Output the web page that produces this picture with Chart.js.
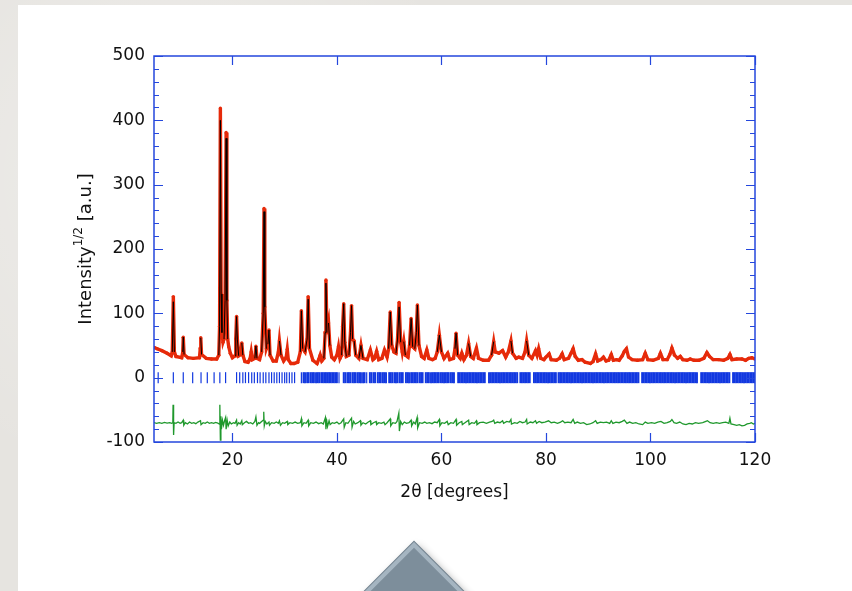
<!DOCTYPE html>
<html>
<head>
<meta charset="utf-8">
<script src="https://cdn.jsdelivr.net/npm/chart.js@4.4.1/dist/chart.umd.min.js"></script>
<style>
  html, body { margin: 0; padding: 0; }
  body {
    width: 852px; height: 591px; overflow: hidden; position: relative;
    background: #e6e4e0;
    background-image:
      radial-gradient(circle at 20% 30%, rgba(255,255,255,0.35) 0, rgba(255,255,255,0) 40%),
      radial-gradient(circle at 70% 80%, rgba(200,196,190,0.4) 0, rgba(200,196,190,0) 35%);
  }
  .card { position: absolute; left: 18px; top: 5px; right: -10px; bottom: -10px; background: #fff; }
  .pyramid {
    position: absolute; left: 414px; top: 542px; width: 100px; height: 100px;
    transform-origin: 0 0; transform: rotate(45deg);
    background: #7d8e9b; border: 4px solid #a5b5c1; outline: 1px solid #71828f;
    box-shadow: 5px 1px 8px rgba(0,0,0,0.45);
  }
  canvas { position: absolute; left: 0; top: 0; }
</style>
</head>
<body>
<div class="card"></div>
<div class="pyramid"></div>
<canvas id="chart" width="852" height="591"></canvas>
<script>
// Ejes
const xTicks = [20, 40, 60, 80, 100, 120];
const yTicks = [-100, 0, 100, 200, 300, 400, 500];

// Patron observado (2theta, intensidad^1/2)
const twoTheta = [
  5.0, 5.6, 6.5, 7.5, 8.3, 8.5, 8.7, 8.9, 9.2, 10.3, 10.5, 10.6, 10.75, 11.5, 12.5, 13.7, 13.85, 13.95, 14.1, 15.0,
  16.0, 17.0, 17.4, 17.55, 17.7, 17.85, 18.0, 18.2, 18.4, 18.6, 18.8, 18.95, 19.1, 19.3, 19.6, 20.0, 20.5, 20.65, 20.8, 20.95,
  21.2, 21.6, 21.8, 22.0, 22.4, 23.0, 23.4, 23.6, 23.8, 24.3, 24.5, 24.7, 25.2, 25.6, 25.9, 26.05, 26.2, 26.5, 26.8, 27.0,
  27.2, 27.8, 28.4, 28.8, 29.0, 29.3, 29.8, 30.3, 30.5, 30.7, 31.2, 31.8, 32.5, 33.0, 33.2, 33.45, 33.9, 34.3, 34.5, 34.75,
  35.4, 36.2, 36.6, 36.8, 37.1, 37.5, 37.75, 37.9, 38.1, 38.4, 38.65, 39.0, 39.5, 40.0, 40.3, 40.6, 40.9, 41.1, 41.3, 41.5,
  41.8, 42.3, 42.6, 42.8, 43.0, 43.3, 43.6, 44.2, 44.6, 45.0, 45.8, 46.4, 46.9, 47.2, 47.6, 48.0, 48.6, 49.1, 49.6, 49.9,
  50.2, 50.5, 50.9, 51.3, 51.6, 51.9, 52.2, 52.5, 52.8, 53.1, 53.6, 53.9, 54.2, 54.5, 54.9, 55.2, 55.4, 55.7, 56.2, 56.7,
  57.2, 57.6, 58.3, 58.8, 59.2, 59.6, 60.0, 60.5, 61.2, 61.6, 62.3, 62.6, 62.8, 63.1, 63.6, 63.9, 64.3, 64.8, 65.2, 65.6,
  66.1, 66.7, 67.1, 68.0, 69.0, 69.6, 70.0, 70.3, 71.0, 71.7, 72.3, 72.8, 73.3, 73.6, 74.3, 74.8, 75.5, 76.0, 76.3, 76.7,
  77.3, 78.0, 78.3, 78.6, 79.0, 79.6, 80.0, 80.6, 81.0, 82.0, 82.6, 83.1, 83.5, 84.3, 84.8, 85.2, 85.6, 86.2, 86.9, 87.5,
  88.5, 89.0, 89.5, 89.9, 90.5, 91.0, 91.5, 92.0, 92.5, 92.9, 93.5, 94.0, 94.6, 95.0, 95.4, 95.8, 96.5, 97.5, 98.5, 99.0,
  99.5, 100.5, 101.5, 101.9, 102.4, 103.2, 103.7, 104.1, 104.6, 105.2, 105.7, 106.2, 107.0, 107.6, 108.3, 109.3, 110.2, 110.8, 111.3, 112.0,
  113.0, 114.0, 114.8, 115.2, 115.6, 116.5, 117.5, 118.2, 118.8, 119.4, 120.0
];
const yObs = [
  47, 45, 42, 38, 34, 40, 126, 40, 33, 31, 40, 63, 36, 31, 30, 31, 45, 62, 36, 30,
  29, 29, 35, 80, 419, 130, 70, 55, 60, 120, 381, 120, 60, 48, 38, 31, 34, 60, 95, 60,
  34, 36, 54, 35, 25, 24, 30, 40, 28, 30, 49, 30, 28, 40, 100, 263, 110, 45, 52, 74,
  35, 26, 26, 40, 57, 35, 26, 32, 44, 28, 22, 22, 24, 40, 104, 45, 40, 60, 126, 45,
  27, 22, 30, 35, 26, 30, 70, 152, 70, 85, 50, 32, 28, 35, 48, 30, 35, 80, 115, 55,
  33, 35, 70, 112, 60, 57, 35, 30, 50, 30, 28, 43, 28, 30, 41, 28, 30, 43, 32, 45,
  102, 50, 40, 38, 60, 117, 55, 40, 56, 35, 32, 50, 92, 48, 45, 70, 113, 50, 33, 30,
  43, 30, 28, 30, 40, 66, 40, 30, 38, 28, 30, 45, 69, 35, 30, 38, 28, 35, 53, 33,
  30, 46, 30, 27, 27, 35, 56, 40, 38, 42, 32, 40, 57, 38, 30, 32, 30, 40, 57, 35,
  30, 42, 35, 45, 30, 28, 32, 37, 28, 27, 30, 37, 28, 30, 38, 45, 33, 27, 28, 24,
  22, 25, 37, 26, 28, 32, 26, 27, 36, 27, 28, 27, 34, 41, 45, 32, 28, 27, 28, 38,
  28, 27, 30, 38, 28, 28, 36, 46, 35, 30, 33, 28, 27, 29, 27, 27, 30, 39, 33, 28,
  28, 27, 30, 36, 28, 29, 29, 27, 30, 31, 29
];

// Puntos donde el calculado se separa del observado
const calcOverrides = [
  [8.7, 118], [17.7, 400], [18.8, 372], [26.05, 258], [34.5, 122], [37.9, 147],
  [51.9, 110], [87.5, 26], [88.5, 25], [110.2, 31], [118.2, 29]
];

// Curva diferencia (obs - calc, desplazada -70)
const diffCurve = [
  [5, -70], [5.5, -71], [6, -70], [6.5, -71], [7, -69.5], [7.5, -70.5], [8, -70], [8.4, -71], [8.6, -70], [8.65, -42],
  [8.75, -89], [8.85, -70], [9.2, -71], [9.6, -69], [10.0, -71], [10.3, -70], [10.6, -66], [10.7, -74], [11.0, -70], [11.4, -72],
  [11.8, -69], [12.2, -71], [12.6, -70], [13.0, -71.5], [13.4, -69], [13.9, -67], [14.0, -73], [14.4, -70], [14.8, -71], [15.2, -69],
  [15.6, -71], [16.0, -70], [16.4, -71], [16.8, -69.5], [17.2, -70.5], [17.5, -72], [17.6, -42], [17.7, -97], [17.8, -60], [17.9, -80],
  [18.1, -66], [18.3, -74], [18.5, -67], [18.7, -62], [18.8, -80], [19.0, -66], [19.2, -75], [19.5, -69], [19.8, -72], [20.2, -70],
  [20.5, -71], [20.8, -66], [20.9, -74], [21.2, -70], [21.5, -72], [21.8, -67], [21.9, -73], [22.3, -70], [22.7, -68], [23.1, -71],
  [23.5, -70], [23.9, -72], [24.3, -68], [24.5, -61], [24.7, -74], [25.0, -70], [25.2, -71], [25.6, -68], [25.9, -66], [26.0, -53],
  [26.1, -75], [26.3, -68], [26.6, -72], [27.0, -69], [27.1, -74], [27.5, -70], [28.0, -71], [28.4, -69], [28.8, -71], [29.0, -67],
  [29.2, -74], [29.6, -70], [30.0, -71], [30.5, -68], [30.6, -73], [31.0, -70], [31.5, -71], [32.0, -69], [32.5, -71], [33.0, -70],
  [33.2, -64], [33.3, -75], [33.7, -70], [34.1, -71], [34.5, -66], [34.6, -75], [35.0, -70], [35.5, -71], [36.0, -69], [36.5, -71.5],
  [37.0, -70], [37.4, -72], [37.8, -62], [37.9, -80], [38.0, -64], [38.2, -76], [38.5, -67], [38.7, -73], [39.1, -70], [39.5, -71],
  [40.0, -69], [40.4, -72], [40.8, -70], [41.3, -64], [41.4, -77], [41.7, -70], [42.1, -71], [42.8, -63], [42.9, -77], [43.2, -68],
  [43.5, -72], [44.0, -70], [44.5, -67], [44.6, -74], [45.0, -70], [45.5, -72], [46.0, -69], [46.4, -67], [46.5, -73], [47.0, -70],
  [47.5, -68], [47.6, -73], [48.0, -70], [48.5, -71], [49.0, -69], [49.2, -73], [49.6, -70], [50.2, -64], [50.3, -75], [50.7, -70],
  [51.2, -71], [51.5, -68], [51.85, -55], [51.95, -83], [52.2, -68], [52.5, -73], [52.9, -69], [53.3, -71], [53.8, -70], [54.2, -66],
  [54.3, -75], [54.7, -69], [55.0, -72], [55.35, -62], [55.45, -78], [55.8, -70], [56.3, -71], [56.8, -69], [57.2, -71], [57.7, -70],
  [58.2, -71.5], [58.7, -69], [59.2, -70], [59.6, -65], [59.7, -75], [60.1, -70], [60.6, -71], [61.1, -68], [61.3, -73], [61.8, -70],
  [62.3, -71], [62.8, -65], [62.9, -74], [63.4, -70], [63.9, -68], [64.0, -73], [64.5, -70], [65.2, -66], [65.3, -73], [65.8, -70],
  [66.3, -71], [66.7, -67], [66.8, -73], [67.3, -70], [68.0, -69], [68.6, -71], [69.2, -69], [69.7, -68], [70.0, -66], [70.2, -71],
  [70.7, -69], [71.2, -70], [71.7, -67], [71.9, -71], [72.5, -68], [73.0, -69], [73.3, -65], [73.4, -72], [74.0, -70], [74.5, -71],
  [75.0, -68], [75.5, -70], [76.0, -69], [76.3, -65], [76.4, -72], [77.0, -69], [77.5, -70], [78.0, -67], [78.2, -71], [78.7, -68],
  [79.2, -70], [79.8, -69], [80.5, -67], [81.0, -70], [81.6, -69], [82.2, -71], [82.8, -69], [83.2, -67], [83.6, -70], [84.2, -69],
  [84.8, -70], [85.2, -65], [85.5, -71], [86.0, -69], [86.6, -71], [87.2, -70], [87.8, -73], [88.4, -72], [89.0, -70], [89.5, -67],
  [89.8, -71], [90.4, -69], [91.0, -70], [91.6, -69], [92.2, -71], [92.5, -67], [92.8, -71], [93.4, -69], [94.0, -70], [94.6, -68],
  [95.0, -66], [95.5, -71], [96.0, -69], [96.6, -71], [97.2, -70], [97.8, -72], [98.5, -73], [99.0, -69], [99.5, -71], [100.2, -70],
  [100.8, -71], [101.4, -69], [102.0, -68], [102.6, -71], [103.2, -70], [103.8, -68], [104.1, -65], [104.5, -70], [105.0, -71], [105.6, -69],
  [106.2, -72], [106.8, -73], [107.4, -71], [108.0, -72], [108.6, -70], [109.2, -71], [110.0, -70], [110.6, -68], [110.9, -67], [111.4, -70],
  [112.0, -71], [112.6, -70], [113.2, -71], [113.8, -70], [114.4, -69], [115.0, -71], [115.2, -63], [115.4, -72], [116.0, -73], [116.5, -74],
  [117.0, -73], [117.5, -75], [118.0, -74], [118.5, -72], [119.0, -71], [119.3, -70], [119.7, -72], [120, -71]
];

// Posiciones de reflexiones (marcas azules)
const reflections = [
  5.8, 8.7, 10.6, 12.4, 14.0, 15.2, 16.5, 17.6, 18.7,
  20.8, 21.4, 22.0, 22.5, 23.1, 23.7, 24.2, 24.8, 25.3, 25.9, 26.4, 27.0, 27.5, 28.0, 28.5, 29.0, 29.5, 30.0, 30.4, 30.9, 31.4, 31.9,
  33.2, 33.6, 33.9, 34.3, 34.6, 35.0, 35.3, 35.6, 36.0, 36.3, 36.6, 37.0, 37.3, 37.6, 37.9, 38.2, 38.5, 38.8, 39.1, 39.4, 39.7, 40.0, 40.4,
  41.3, 41.6, 42.0, 42.3, 42.6, 43.0, 43.3, 43.6, 44.0, 44.3, 44.6, 45.0, 45.3, 45.7, 46.3, 46.6, 47.0, 47.3, 47.8, 48.1, 48.4, 48.8,
  49.1, 49.4, 50.0, 50.3, 50.6, 51.0, 51.3, 51.6, 52.0, 52.3, 52.6, 53.2, 53.5, 53.8, 54.2, 54.5, 54.8, 55.1, 55.4, 55.8, 56.1, 56.4,
  57.0, 57.3, 57.6, 58.0, 58.3, 58.6, 58.9, 59.2, 59.5, 59.9, 60.2, 60.5, 60.8, 61.1, 61.4, 61.8, 62.1, 62.4, 63.2, 63.5, 63.8, 64.1,
  64.4, 64.7, 65.0, 65.3, 65.6, 65.9, 66.2, 66.5, 66.8, 67.1, 67.4, 67.7, 68.0, 68.3, 69.1, 69.4, 69.7, 70.0, 70.3, 70.6, 70.9, 71.2,
  71.5, 71.8, 72.1, 72.4, 72.7, 73.0, 73.3, 73.6, 73.9, 74.2, 74.5, 75.1, 75.4, 75.7, 76.0, 76.3, 76.6, 76.9, 77.7, 78.0, 78.3, 78.6,
  78.9, 79.2, 79.5, 79.8, 80.1, 80.4, 80.7, 81.0, 81.3, 81.6, 81.9, 82.4, 82.7, 83.0, 83.3, 83.6, 83.9, 84.2, 84.5, 84.8, 85.1, 85.4,
  85.7, 86.0, 86.3, 86.6, 86.9, 87.2, 87.5, 87.8, 88.1, 88.4, 88.7, 89.0, 89.3, 89.6, 89.9, 90.2, 90.5, 90.8, 91.1, 91.4, 91.7, 92.0,
  92.3, 92.6, 92.9, 93.2, 93.5, 93.8, 94.1, 94.4, 94.7, 95.0, 95.3, 95.6, 95.9, 96.2, 96.5, 96.8, 97.1, 97.4, 97.7, 98.4, 98.7, 99.0,
  99.3, 99.6, 99.9, 100.2, 100.5, 100.8, 101.1, 101.4, 101.7, 102.0, 102.3, 102.6, 102.9, 103.2, 103.5, 103.8, 104.1, 104.4, 104.7, 105.0,
  105.3, 105.6, 105.9, 106.2, 106.5, 106.8, 107.1, 107.4, 107.7, 108.0, 108.3, 108.6, 108.9, 109.7, 110.0, 110.3, 110.6, 110.9, 111.2, 111.5,
  111.8, 112.1, 112.4, 112.7, 113.0, 113.3, 113.6, 113.9, 114.2, 114.5, 114.8, 115.1, 115.8, 116.1, 116.4, 116.7, 117.0, 117.3, 117.6, 117.9,
  118.2, 118.5, 118.8, 119.1, 119.4, 119.7, 120.0
];

// Colores
const AXIS_BLUE = '#2447dd';
const TICK_BLUE = '#1238e0';
const OBS_RED = '#e62a0a';
const DIFF_GREEN = '#1f982c';

// Construir series
const obsPoints = twoTheta.map((x, i) => ({ x: x, y: yObs[i] }));
const calcPoints = obsPoints.map(p => {
    const o = calcOverrides.find(c => c[0] === p.x);
    return { x: p.x, y: o ? o[1] : p.y };
});
const diffPoints = diffCurve.map(d => ({ x: d[0], y: d[1] }));
const reflPoints = reflections.map(x => ({ x: x, y: 0 }));

// Grosor de las marcas: mas gruesas donde estan muy juntas
function reflWidth(ctx) {
    const i = ctx.dataIndex;
    const prev = i > 0 ? reflections[i] - reflections[i - 1] : 9;
    const next = i < reflections.length - 1 ? reflections[i + 1] - reflections[i] : 9;
    return Math.min(prev, next) < 0.36 ? 1.9 : 1.2;
}

// Marco, marcas interiores y titulos de ejes
const framePlugin = {
    id: 'frame',
    afterDraw(chart) {
        const ctx = chart.ctx;
        const a = chart.chartArea;
        const xs = chart.scales.x, ys = chart.scales.y;
        ctx.save();
        ctx.strokeStyle = AXIS_BLUE;
        ctx.lineWidth = 1.5;
        ctx.strokeRect(a.left, a.top, a.right - a.left, a.bottom - a.top);
        ctx.lineWidth = 1.2;
        ctx.beginPath();
        xTicks.forEach(v => {
            const px = Math.round(xs.getPixelForValue(v)) + 0.5;
            ctx.moveTo(px, a.bottom); ctx.lineTo(px, a.bottom - 9);
            ctx.moveTo(px, a.top); ctx.lineTo(px, a.top + 9);
        });
        for (let v = -100; v <= 500; v += 20) {
            const py = Math.round(ys.getPixelForValue(v)) + 0.5;
            const len = (v % 100 === 0) ? 9 : 5;
            ctx.moveTo(a.left, py); ctx.lineTo(a.left + len, py);
            ctx.moveTo(a.right, py); ctx.lineTo(a.right - len, py);
        }
        ctx.stroke();

        // Titulo eje x
        ctx.fillStyle = '#111';
        ctx.textAlign = 'center';
        ctx.textBaseline = 'middle';
        ctx.font = '17px "DejaVu Sans"';
        ctx.fillText('2\u03B8 [degrees]', (a.left + a.right) / 2, 493);

        // Titulo eje y con superindice
        const big = '18px "DejaVu Sans"', small = '12px "DejaVu Sans"';
        ctx.font = big;
        const w1 = ctx.measureText('Intensity').width;
        const w3 = ctx.measureText(' [a.u.]').width;
        ctx.font = small;
        const w2 = ctx.measureText('1/2').width;
        const total = w1 + w2 + w3;
        ctx.translate(86, (a.top + a.bottom) / 2);
        ctx.rotate(-Math.PI / 2);
        ctx.textAlign = 'left';
        const x0 = -total / 2;
        ctx.font = big;
        ctx.fillText('Intensity', x0, 0);
        ctx.font = small;
        ctx.fillText('1/2', x0 + w1, -7);
        ctx.font = big;
        ctx.fillText(' [a.u.]', x0 + w1 + w2, 0);
        ctx.restore();
    }
};

const tickFont = { family: 'DejaVu Sans', size: 17 };

new Chart(document.getElementById('chart'), {
    type: 'scatter',
    data: {
        datasets: [
            {
                label: 'calc',
                data: calcPoints,
                showLine: true,
                pointRadius: 0,
                borderColor: '#000',
                borderWidth: 1,
                segment: {
                    borderColor: c => Math.abs(c.p1.y - c.p0.y) > 12 ? '#000' : 'rgba(0,0,0,0)'
                }
            },
            {
                label: 'obs',
                data: obsPoints,
                showLine: true,
                borderColor: OBS_RED,
                borderWidth: 3.4,
                pointRadius: 1.7,
                pointBorderWidth: 0,
                pointBackgroundColor: OBS_RED
            },
            {
                label: 'reflections',
                data: reflPoints,
                showLine: false,
                pointStyle: 'line',
                rotation: 90,
                pointRadius: 5.5,
                pointBorderWidth: reflWidth,
                pointBorderColor: TICK_BLUE,
                pointBackgroundColor: TICK_BLUE
            },
            {
                label: 'diff',
                data: diffPoints,
                showLine: true,
                pointRadius: 0,
                borderColor: DIFF_GREEN,
                borderWidth: 1.3
            }
        ]
    },
    options: {
        responsive: false,
        animation: false,
        devicePixelRatio: 1,
        layout: { padding: { left: 0, right: 97, top: 56, bottom: 0 } },
        plugins: { legend: { display: false }, tooltip: { enabled: false } },
        scales: {
            x: {
                type: 'linear',
                min: 5,
                max: 120,
                grid: { display: false },
                border: { display: false },
                ticks: { font: tickFont, color: '#111', padding: 0, maxRotation: 0 },
                afterBuildTicks: s => { s.ticks = xTicks.map(v => ({ value: v })); },
                afterFit: s => { s.height = 149; }
            },
            y: {
                min: -100,
                max: 500,
                grid: { display: false },
                border: { display: false },
                ticks: { font: tickFont, color: '#111', padding: 1 },
                afterBuildTicks: s => { s.ticks = yTicks.map(v => ({ value: v })); },
                afterFit: s => { s.width = 154; }
            }
        }
    },
    plugins: [framePlugin]
});
</script>
</body>
</html>
